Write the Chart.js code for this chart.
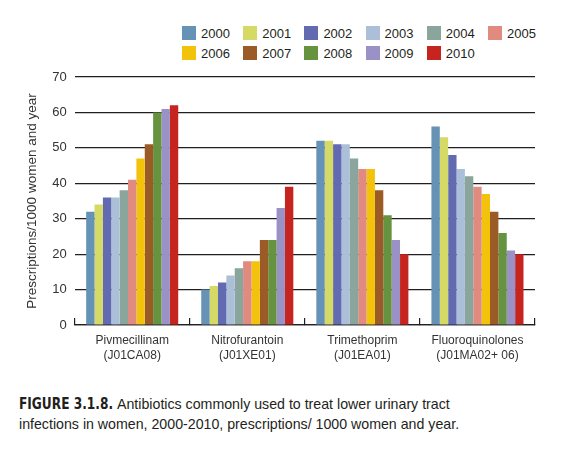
<!DOCTYPE html>
<html>
<head>
<meta charset="utf-8">
<script src="https://cdn.jsdelivr.net/npm/chart.js@4"></script>
<style>
  body { margin: 0; width: 586px; height: 456px; background: #fff; position: relative; overflow: hidden; font-family: "Liberation Sans", Arial, sans-serif; color: #231f20; }
  #legend { position: absolute; left: 182px; top: 26px; display: grid; grid-template-columns: repeat(6, 61.2px); row-gap: 6px; }
  .item { display: flex; align-items: center; height: 14px; font-size: 13px; }
  .box { width: 14px; height: 14px; margin-right: 5px; flex: none; }
  #wrap { position: absolute; left: 0; top: 60px; width: 586px; height: 322px; }
  #caption { position: absolute; left: 19px; top: 394px; font-size: 14.2px; line-height: 20px; color: #231f20; }
  #caption b { display: inline-block; font-family: "DejaVu Sans Condensed", "DejaVu Sans", sans-serif; font-stretch: condensed; font-size: 15.4px; transform: scaleX(0.88); transform-origin: left center; margin-right: -12px; }
</style>
</head>
<body>
<div id="legend"></div>
<div id="wrap"><canvas id="chart"></canvas></div>
<div id="caption"><b>FIGURE 3.1.8.</b> Antibiotics commonly used to treat lower urinary tract<br>infections in women, 2000-2010, prescriptions/ 1000 women and year.</div>
<script>
const categories = [
  ["Pivmecillinam", "(J01CA08)"],
  ["Nitrofurantoin", "(J01XE01)"],
  ["Trimethoprim", "(J01EA01)"],
  ["Fluoroquinolones", "(J01MA02+ 06)"]
];
const years = ["2000", "2001", "2002", "2003", "2004", "2005", "2006", "2007", "2008", "2009", "2010"];
const colors = ["#6592b5", "#d5d966", "#626bb2", "#abbfd8", "#8aa59c", "#e08a80", "#f3c30c", "#9b5b27", "#66933f", "#9a92c6", "#c6251f"];

// one row per drug, one value per year
const pivmecillinam = [32, 34, 36, 36, 38, 41, 47, 51, 60, 61, 62];
const nitrofurantoin = [10, 11, 12, 14, 16, 18, 18, 24, 24, 33, 39];
const trimethoprim = [52, 52, 51, 51, 47, 44, 44, 38, 31, 24, 20];
const fluoroquinolones = [56, 53, 48, 44, 42, 39, 37, 32, 26, 21, 20];
const drugs = [pivmecillinam, nitrofurantoin, trimethoprim, fluoroquinolones];

const yTicks = [0, 10, 20, 30, 40, 50, 60, 70];

const datasets = years.map((y, i) => ({
  label: y,
  data: drugs.map(d => d[i]),
  backgroundColor: colors[i],
  borderWidth: 0,
  categoryPercentage: 0.8,
  barPercentage: 1.0
}));

const legend = document.getElementById("legend");
years.forEach((y, i) => {
  const el = document.createElement("div");
  el.className = "item";
  el.innerHTML = `<span class="box" style="background:${colors[i]}"></span>${y}`;
  legend.appendChild(el);
});

const ink = "#231f20";
new Chart(document.getElementById("chart").getContext("2d"), {
  type: "bar",
  data: { labels: categories, datasets },
  options: {
    responsive: true,
    maintainAspectRatio: false,
    animation: false,
    layout: { padding: { left: 20, right: 51, top: 17, bottom: 4 } },
    plugins: { legend: { display: false }, tooltip: { enabled: false } },
    scales: {
      x: {
        grid: { display: true, drawOnChartArea: false, drawTicks: true, tickLength: -7, color: ink, lineWidth: 1.2 },
        border: { display: true, color: ink, width: 1.2 },
        ticks: { color: "#333", font: { family: "Liberation Sans", size: 12, lineHeight: 1.25 }, padding: 15 }
      },
      y: {
        min: 0,
        max: 70,
        afterBuildTicks: axis => { axis.ticks = yTicks.map(v => ({ value: v })); },
        grid: { color: ink, lineWidth: 1.2, drawTicks: false },
        border: { display: false },
        ticks: { color: "#333", font: { family: "Liberation Sans", size: 13 }, padding: 8 },
        title: { display: true, text: "Prescriptions/1000 women and year", color: "#333", font: { family: "Liberation Sans", size: 13.5 }, padding: { top: 4, bottom: 4 } }
      }
    }
  }
});
</script>
</body>
</html>
